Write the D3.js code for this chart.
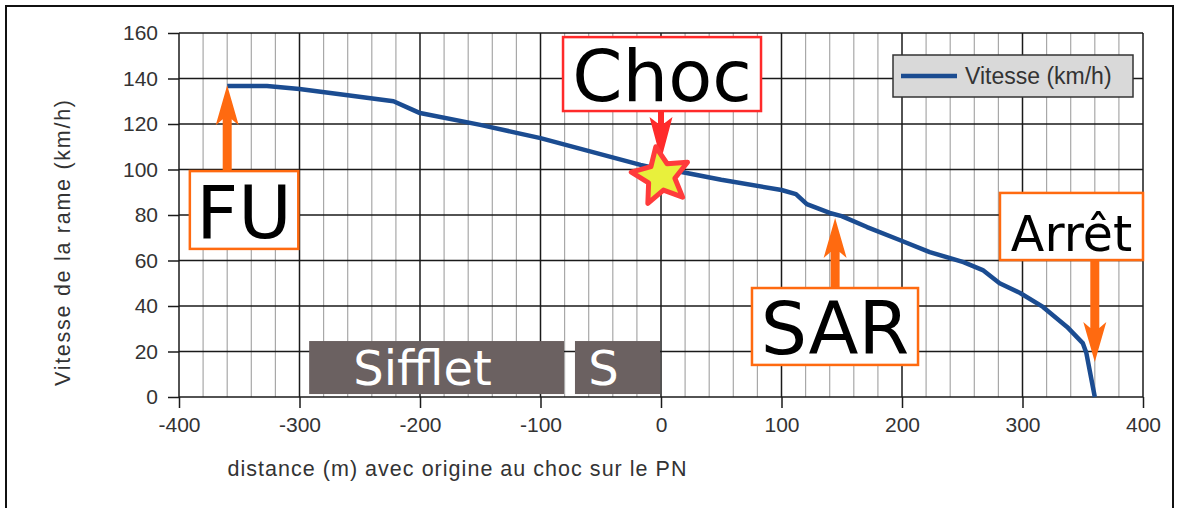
<!DOCTYPE html>
<html>
<head>
<meta charset="utf-8">
<script src="https://cdn.jsdelivr.net/npm/d3@7"></script>
<style>
  html, body { margin: 0; padding: 0; background: #fff; }
  svg { display: block; }
</style>
</head>
<body>
<svg id="chart" width="1178" height="508"></svg>
<script>
// ---------- data ----------
const distance = [-360, -327, -300, -260, -222, -206, -200, -150, -100, -17, 0, 16, 50, 100, 112, 121, 140, 150, 171, 198, 223, 251, 267, 281, 298, 317, 337, 350, 353, 360];
const speed    = [136.7, 136.7, 135.4, 132.6, 130, 126.2, 124.8, 119.6, 113.8, 102, 100, 99, 95.5, 91, 89.2, 84.8, 80.9, 79.5, 74.7, 69, 63.7, 59.3, 55.8, 50, 45.7, 39.6, 30.8, 23.7, 19.3, 0];
const xTicks = [-400, -300, -200, -100, 0, 100, 200, 300, 400];
const xMinor = d3.range(-400, 401, 20);
const yTicks = [0, 20, 40, 60, 80, 100, 120, 140, 160];
const seriesName = "Vitesse (km/h)";
const xTitle = "distance (m) avec origine au choc sur le PN";
const yTitle = "Vitesse de la rame (km/h)";

// annotations (in data units)
const callouts = [
  { label: "FU",    ax: -360, tip: 137,   box: [-391, -301, 99.3, 65.1],  font: 73, color: "#ff6a10" },
  { label: "Choc",  ax: 0,    tip: 104.2, box: [-81.3, 83, 158.2, 125.7], font: 72, color: "#ff2a2a" },
  { label: "SAR",   ax: 144.5, tip: 78.7, box: [75.5, 213.3, 47.9, 14.1], font: 73, color: "#ff6a10" },
  { label: "Arrêt", ax: 360,  tip: 15.4,  box: [281.3, 400, 89.7, 60.2],  font: 49, color: "#ff6a10" }
];
const bands = [
  { label: "Sifflet", x0: -292, x1: -80.5, y0: 24.6, y1: 1.3 },
  { label: "S",       x0: -71.4, x1: -0.8, y0: 24.6, y1: 1.3 }
];
const shock = { x: 0, y: 97 };

// ---------- layout ----------
const svg = d3.select("#chart");
const x = d3.scaleLinear().domain([-400, 400]).range([179, 1143]);
const y = d3.scaleLinear().domain([0, 160]).range([397, 33]);

// outer frame
svg.append("rect").attr("x", 6).attr("y", 6).attr("width", 1167).attr("height", 520)
  .attr("fill", "#fff").attr("stroke", "#111").attr("stroke-width", 2);

// minor vertical grid
svg.append("g").selectAll("line").data(xMinor.filter(d => xTicks.indexOf(d) < 0)).join("line")
  .attr("x1", d => x(d)).attr("x2", d => x(d)).attr("y1", y(160)).attr("y2", y(0))
  .attr("stroke", "#a8a8a8").attr("stroke-width", 1.2);

// major grid
svg.append("g").selectAll("line").data(yTicks).join("line")
  .attr("x1", x(-400)).attr("x2", x(400)).attr("y1", d => y(d)).attr("y2", d => y(d))
  .attr("stroke", "#1a1a1a").attr("stroke-width", 1.5);
svg.append("g").selectAll("line").data(xTicks).join("line")
  .attr("x1", d => x(d)).attr("x2", d => x(d)).attr("y1", y(160)).attr("y2", y(0))
  .attr("stroke", "#1a1a1a").attr("stroke-width", 1.5);

// axes
const xAxis = svg.append("g").attr("transform", `translate(0,${y(0)})`)
  .call(d3.axisBottom(x).tickValues(xTicks).tickSize(11).tickPadding(9).tickFormat(d => String(d)));
const yAxis = svg.append("g").attr("transform", `translate(${x(-400)},0)`)
  .call(d3.axisLeft(y).tickValues(yTicks).tickSize(11).tickPadding(10).tickFormat(d => String(d)));
[xAxis, yAxis].forEach(g => {
  g.select(".domain").remove();
  g.selectAll(".tick line").attr("stroke", "#1a1a1a").attr("stroke-width", 1.5);
  g.selectAll(".tick text").attr("fill", "#333").attr("font-family", "Liberation Sans, Arial, sans-serif").attr("font-size", 21);
});

// axis titles
svg.append("text").attr("x", 457).attr("y", 476).attr("text-anchor", "middle")
  .attr("font-family", "Liberation Sans, Arial, sans-serif").attr("font-size", 21.5).attr("fill", "#333")
  .attr("textLength", 459).attr("lengthAdjust", "spacing")
  .text(xTitle);
svg.append("text").attr("transform", "translate(70,243) rotate(-90)").attr("text-anchor", "middle")
  .attr("font-family", "Liberation Sans, Arial, sans-serif").attr("font-size", 21.5).attr("fill", "#333")
  .attr("textLength", 286).attr("lengthAdjust", "spacing")
  .text(yTitle);

// bands (Sifflet / S)
const bandG = svg.append("g");
bands.forEach(b => {
  bandG.append("rect").attr("x", x(b.x0)).attr("y", y(b.y0))
    .attr("width", x(b.x1) - x(b.x0)).attr("height", y(b.y1) - y(b.y0))
    .attr("fill", "#6b6161");
  bandG.append("text").attr("x", (x(b.x0) + x(b.x1)) / 2 - 14).attr("y", y(b.y1) - 9)
    .attr("text-anchor", "middle").attr("font-family", "DejaVu Sans, sans-serif")
    .attr("font-size", 48).attr("fill", "#fff").text(b.label);
});

// line
const line = d3.line().x((d, i) => x(distance[i])).y((d, i) => y(speed[i]));
svg.append("path").datum(speed).attr("d", line)
  .attr("fill", "none").attr("stroke", "#1b4c91").attr("stroke-width", 4.5)
  .attr("stroke-linejoin", "round").attr("stroke-linecap", "butt");

// legend
const lg = svg.append("g");
lg.append("rect").attr("x", 893).attr("y", 55).attr("width", 240).attr("height", 42)
  .attr("fill", "#d9d9d9").attr("stroke", "#333").attr("stroke-width", 1.5);
lg.append("line").attr("x1", 901).attr("x2", 957).attr("y1", 76).attr("y2", 76)
  .attr("stroke", "#1b4c91").attr("stroke-width", 4.5);
lg.append("text").attr("x", 965).attr("y", 84).attr("font-family", "Liberation Sans, Arial, sans-serif")
  .attr("font-size", 23).attr("fill", "#333").text(seriesName);

// arrows + boxes
function arrow(g, px, yFrom, yTip, color, sw, hw, hl) {
  const dir = yFrom > yTip ? 1 : -1;
  const base = yTip + dir * hl;
  const notch = yTip + dir * hl * 0.85;
  const pts = [[px, yTip], [px + hw / 2, base], [px + sw / 2, notch], [px + sw / 2, yFrom],
               [px - sw / 2, yFrom], [px - sw / 2, notch], [px - hw / 2, base]];
  g.append("polygon").attr("points", pts.map(p => p.join(",")).join(" ")).attr("fill", color);
}
const cg = svg.append("g");
callouts.forEach(c => {
  const bx0 = x(c.box[0]), bx1 = x(c.box[1]), by0 = y(c.box[2]), by1 = y(c.box[3]);
  const px = x(c.ax), tipPx = y(c.tip);
  const fromPx = tipPx < by0 ? by0 : by1;
  if (c.label === "Choc") arrow(cg, px, fromPx, tipPx, c.color, 6, 23, 43);
  else arrow(cg, px, fromPx, tipPx, c.color, 9, 23, 40);
  cg.append("rect").attr("x", bx0).attr("y", by0).attr("width", bx1 - bx0).attr("height", by1 - by0)
    .attr("fill", "#fff").attr("stroke", c.color).attr("stroke-width", 2.5);
  cg.append("text").attr("x", (bx0 + bx1) / 2).attr("y", by1 - (by1 - by0) * 0.14)
    .attr("text-anchor", "middle").attr("font-family", "DejaVu Sans, sans-serif")
    .attr("font-size", c.font).attr("fill", "#000").text(c.label);
});

// shock star
const cx = x(shock.x), cy = y(shock.y);
const starPts = d3.range(10).map(i => {
  const r = i % 2 === 0 ? 30 : 14;
  const a = (-90 - 10 + i * 36) * Math.PI / 180;
  return [cx + r * Math.cos(a), cy + r * Math.sin(a)];
});
svg.append("polygon").attr("points", starPts.map(p => p.join(",")).join(" "))
  .attr("fill", "#e8f03c").attr("stroke", "#ff3b3b").attr("stroke-width", 5).attr("stroke-linejoin", "round");
</script>
</body>
</html>
